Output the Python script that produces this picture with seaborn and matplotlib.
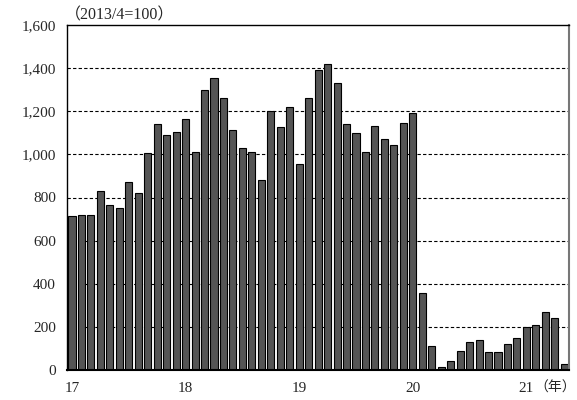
import matplotlib
matplotlib.use("Agg")
import matplotlib.pyplot as plt
import seaborn as sns
import numpy as np
import pandas as pd

# 月次指数 (2013/4=100), 2017年1月〜2021年5月
months = pd.period_range("2017-01", "2021-05", freq="M").astype(str).tolist()
values = [715, 720, 720, 830, 765, 750, 870, 820, 1005, 1140, 1090, 1105,
          1165, 1010, 1300, 1355, 1260, 1115, 1030, 1010, 880, 1200, 1125, 1220,
          955, 1260, 1390, 1420, 1330, 1140, 1100, 1010, 1130, 1070, 1045, 1145,
          1190, 355, 110, 15, 40, 90, 130, 140, 85, 85, 120, 150,
          200, 210, 270, 240, 30]
year_labels = ["17", "18", "19", "20", "21"]
y_ticks = [0, 200, 400, 600, 800, 1000, 1200, 1400, 1600]

sns.set_theme(style="white")
plt.rcParams['font.family'] = ['Liberation Serif', 'Noto Sans CJK JP']

df = pd.DataFrame({"month": months, "value": values})

fig = plt.figure(figsize=(5.77, 4.0), dpi=100)
ax = fig.add_axes([0.1161, 0.075, 0.8700, 0.8625])

# グリッド（点線）
for yv in y_ticks[1:-1]:
    ax.axhline(yv, color="black", linestyle=(0, (3, 2)), linewidth=0.8, zorder=0)

sns.barplot(data=df, x="month", y="value", color="#555555", saturation=1,
            edgecolor="black", linewidth=0.8, width=0.75, ax=ax, zorder=2)

ax.set_ylim(0, 1600)
ax.set_xlim(-0.53, 52.5)
ax.set_yticks(y_ticks)
ax.set_yticklabels([f"{v:,}" for v in y_ticks], fontsize=11)
ax.set_xticks(np.arange(0, len(months), 12))
ax.set_xticklabels(year_labels, fontsize=11)
ax.tick_params(axis="both", length=0, pad=8)
ax.tick_params(axis="x", pad=9)
ax.set_xlabel("")
ax.set_ylabel("")

for side in ["left", "top", "bottom"]:
    ax.spines[side].set_color("black")
    ax.spines[side].set_linewidth(1.0)
ax.spines["bottom"].set_linewidth(1.5)
ax.spines["right"].set_color("#777777")
ax.spines["right"].set_linewidth(1.5)

fig.text(0.112, 0.942, "（2013/4=100）", fontsize=11.5, ha="left", va="bottom")
fig.text(0.998, 0.031, "（年）", fontsize=10, ha="right", va="center")

fig.savefig("out.png", dpi=100)
